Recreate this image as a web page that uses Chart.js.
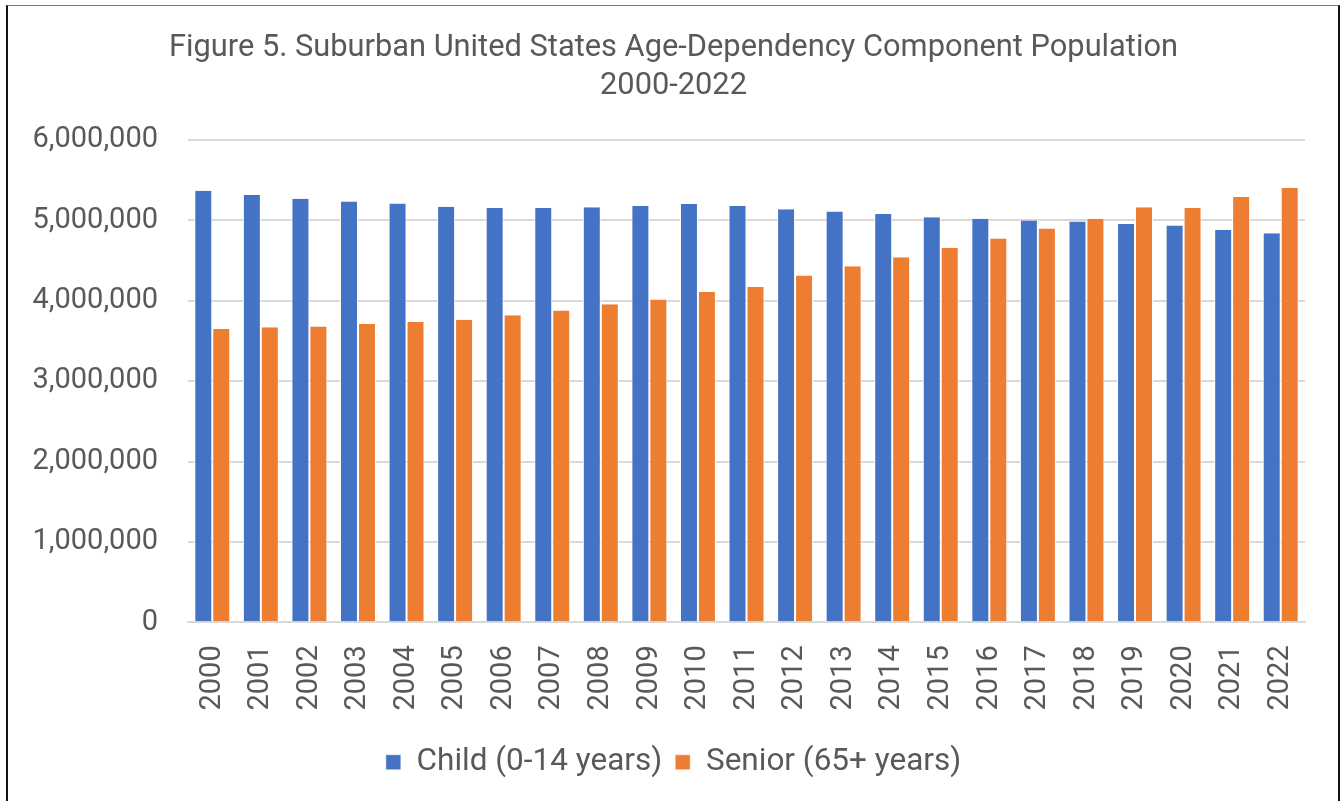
<!DOCTYPE html>
<html>
<head>
<meta charset="utf-8">
<script src="https://cdn.jsdelivr.net/npm/chart.js@4.4.1/dist/chart.umd.min.js"></script>
<style>
  html, body { margin: 0; padding: 0; background: #ffffff; }
  #wrap { position: relative; width: 1340px; height: 801px; overflow: hidden; }
  #frame { position: absolute; left: 6px; top: 5px; width: 1330px; height: 820px;
           border-left: 2px solid #111; border-right: 2px solid #111; border-top: 1px solid #777;
           pointer-events: none; }
  canvas { position: absolute; left: 0; top: 0; }
</style>
</head>
<body>
<div id="wrap">
  <canvas id="c" width="1340" height="801"></canvas>
  <div id="frame"></div>
</div>
<script>
const years = ["2000","2001","2002","2003","2004","2005","2006","2007","2008","2009","2010","2011","2012","2013","2014","2015","2016","2017","2018","2019","2020","2021","2022"];
const childPop = [5370000,5315000,5270000,5235000,5210000,5170000,5155000,5155000,5165000,5180000,5205000,5180000,5140000,5110000,5080000,5040000,5020000,5000000,4985000,4955000,4935000,4880000,4840000];
const seniorPop = [3650000,3670000,3680000,3710000,3735000,3765000,3820000,3880000,3956000,4015000,4110000,4170000,4315000,4430000,4540000,4660000,4775000,4900000,5020000,5165000,5155000,5290000,5405000];
const seriesNames = ["Child (0-14 years)", "Senior (65+ years)"];
const titleLines = ["Figure 5. Suburban United States Age-Dependency Component Population", "2000-2022"];

const textColor = "#595959";
const fontFamily = "Roboto, 'Noto Sans', sans-serif";

// shift title and legend so they are centred on the frame rather than the full canvas
const shiftBlocks = {
  id: "shiftBlocks",
  afterLayout(chart) {
    const dx = 21;
    [chart.titleBlock, chart.legend].forEach(b => {
      if (b) { b.left += dx; b.right += dx; }
    });
  }
};

new Chart(document.getElementById("c"), {
  type: "bar",
  data: {
    labels: years,
    datasets: [
      { label: seriesNames[0], data: childPop, backgroundColor: "#4472C4", borderColor: "#ffffff", borderWidth: {left: 1, right: 1, top: 0, bottom: 0}, borderSkipped: false },
      { label: seriesNames[1], data: seniorPop, backgroundColor: "#ED7D31", borderColor: "#ffffff", borderWidth: {left: 1, right: 1, top: 0, bottom: 0}, borderSkipped: false }
    ]
  },
  plugins: [shiftBlocks],
  options: {
    responsive: false,
    animation: false,
    devicePixelRatio: 1,
    layout: { padding: { left: 0, right: 35, top: 0, bottom: 13 } },
    datasets: { bar: { barPercentage: 1.0, categoryPercentage: 0.74 } },
    plugins: {
      title: {
        display: true,
        text: titleLines,
        color: textColor,
        font: { family: fontFamily, size: 30.8, weight: "normal", lineHeight: 1.234 },
        padding: { top: 29, bottom: 35 }
      },
      legend: {
        position: "bottom",
        labels: {
          color: textColor,
          font: { family: fontFamily, size: 31.5 },
          boxWidth: 15, boxHeight: 15,
          padding: 13
        }
      },
      tooltip: { enabled: false }
    },
    scales: {
      x: {
        grid: { display: false, drawTicks: false },
        border: { display: true, color: "#d9d9d9", width: 2 },
        ticks: {
          color: textColor,
          font: { family: fontFamily, size: 29 },
          minRotation: 90, maxRotation: 90,
          padding: 23
        }
      },
      y: {
        min: 0, max: 6000000,
        afterFit: (s) => { s.width = 188; },
        grid: { color: "#d9d9d9", lineWidth: 2, drawTicks: false },
        border: { display: false },
        ticks: {
          stepSize: 1000000,
          color: textColor,
          font: { family: fontFamily, size: 29 },
          padding: 30,
          callback: (v) => v.toLocaleString("en-US")
        }
      }
    }
  }
});
</script>
</body>
</html>
